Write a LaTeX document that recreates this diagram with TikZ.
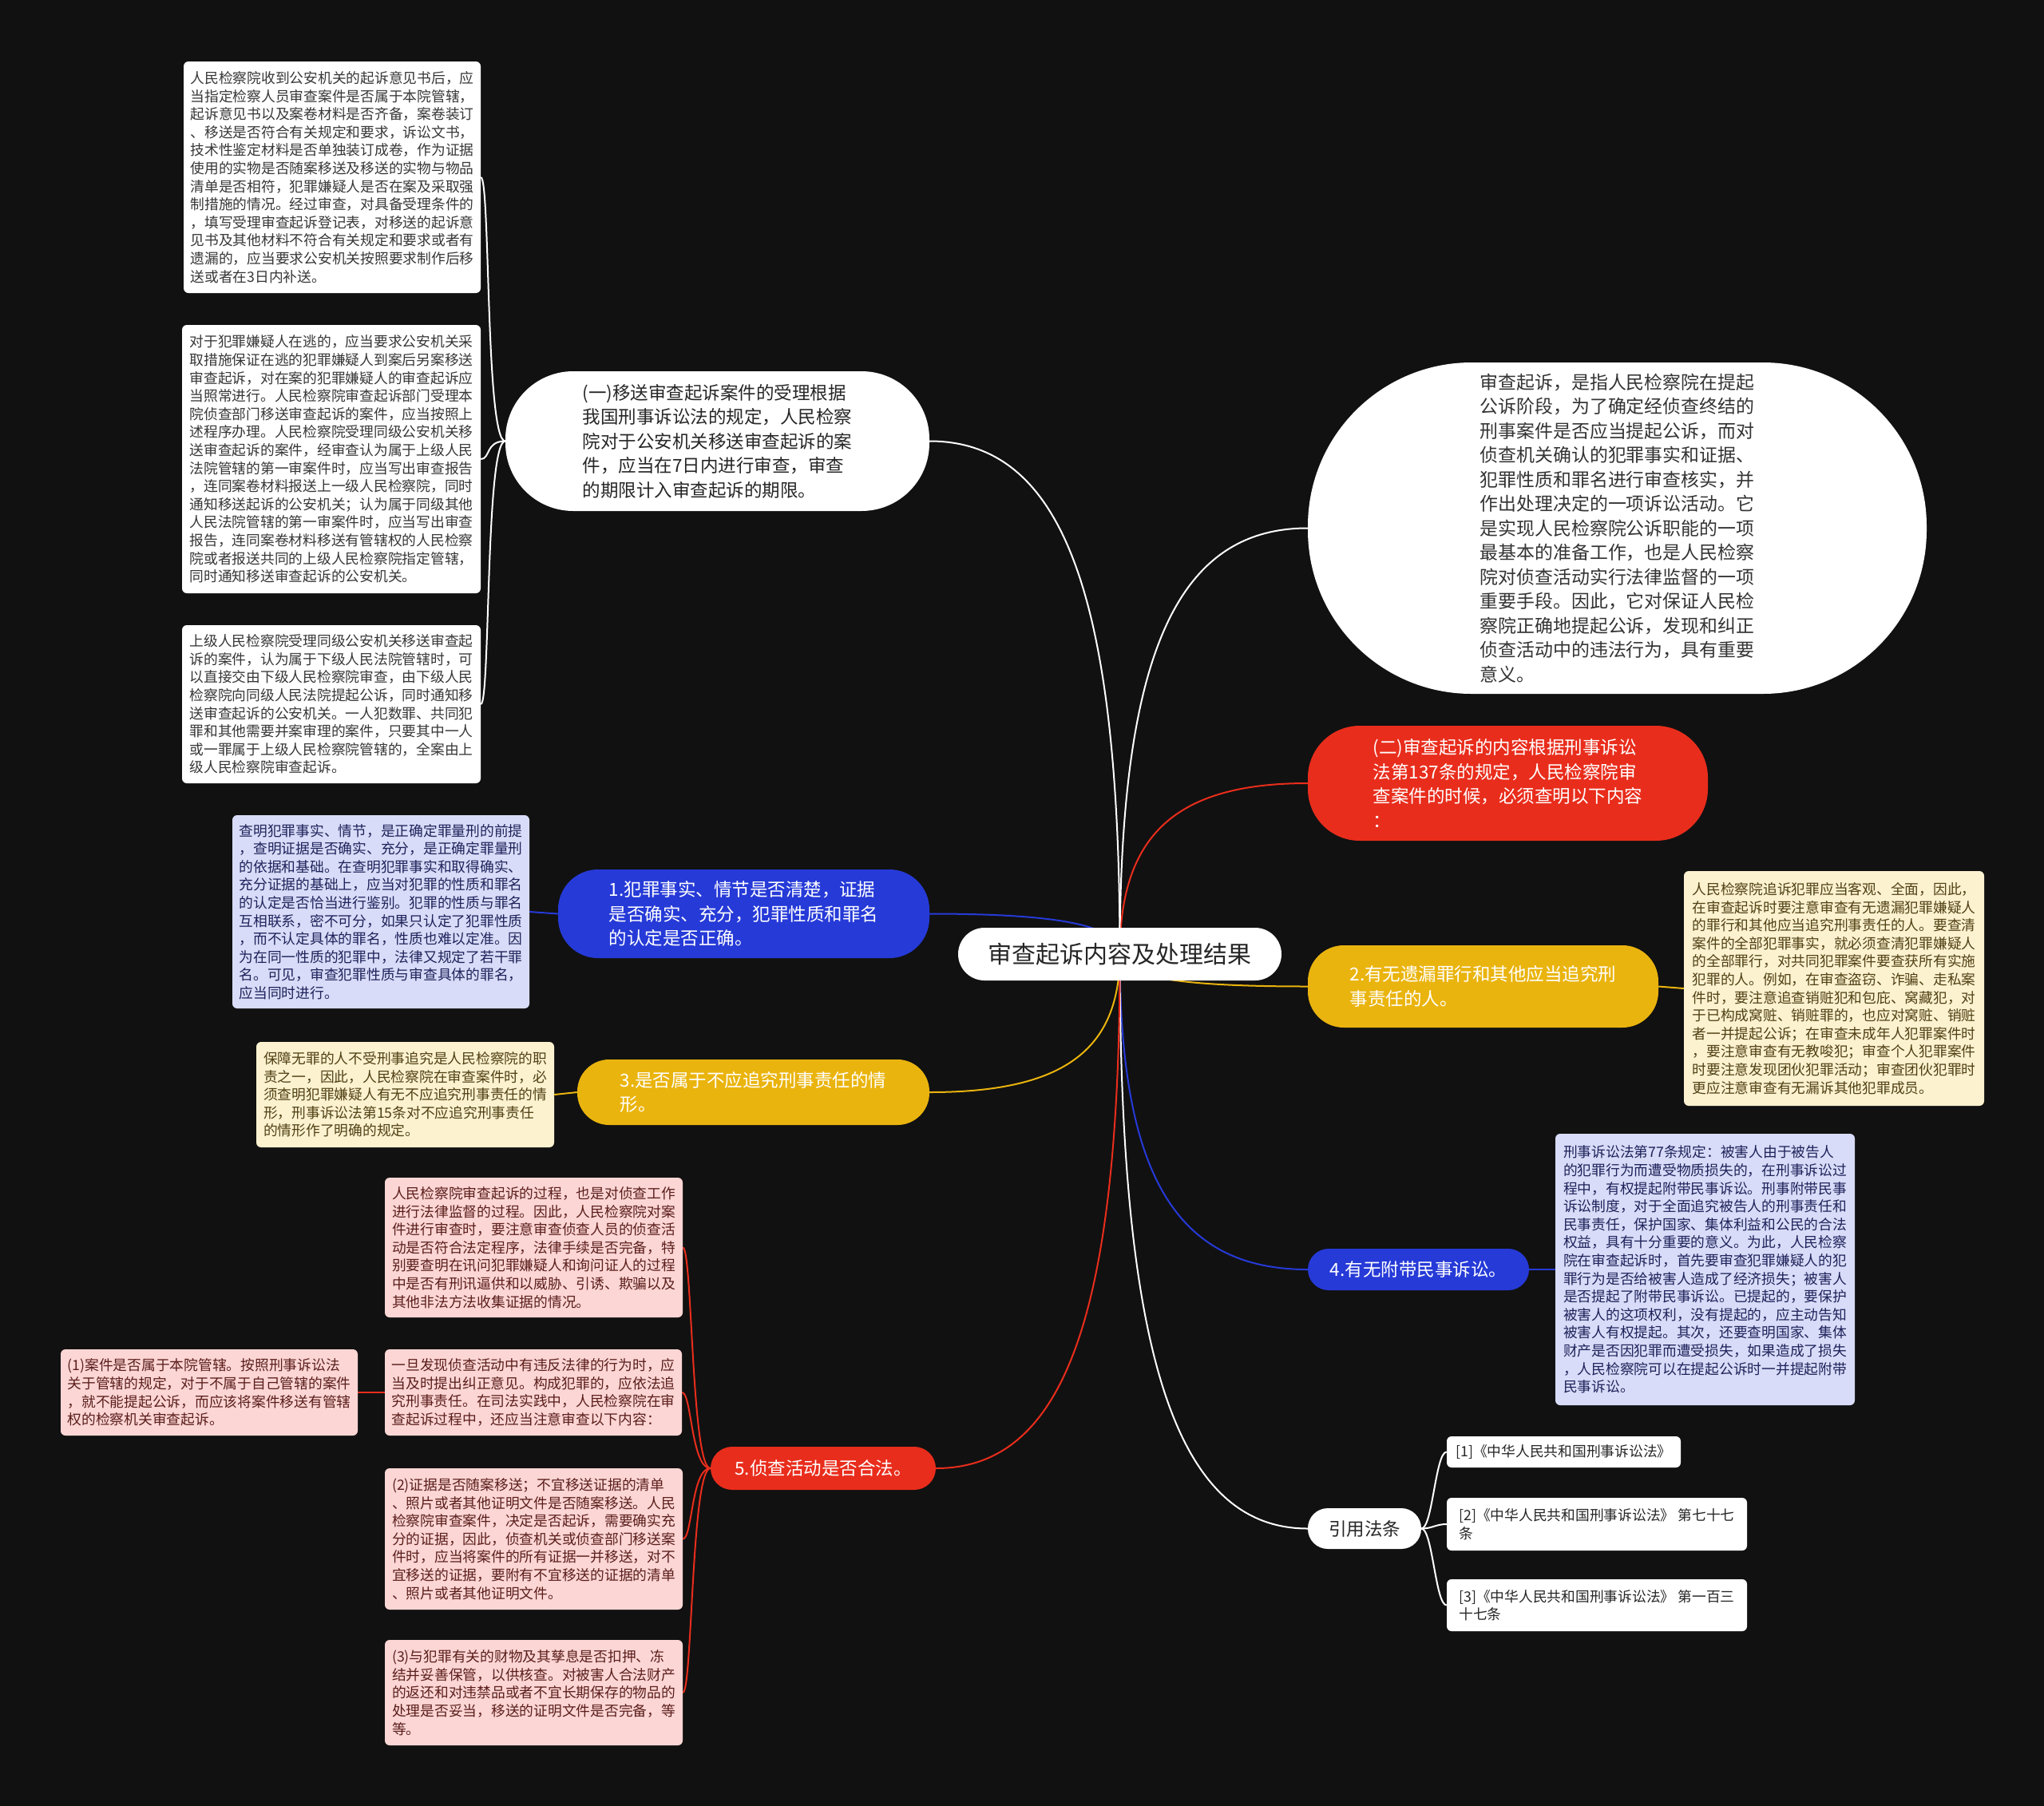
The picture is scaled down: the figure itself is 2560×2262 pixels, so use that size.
\documentclass[tikz,border=0pt]{standalone}
\usepackage{fontspec}
\setmainfont{Noto Sans CJK SC}
\usetikzlibrary{calc}
\definecolor{bgc}{RGB}{17,17,17}
\definecolor{mred}{RGB}{233,45,28}
\definecolor{mblue}{RGB}{38,58,216}
\definecolor{myel}{RGB}{234,180,14}
\definecolor{cream}{RGB}{252,242,208}
\definecolor{lav}{RGB}{216,220,248}
\definecolor{pink}{RGB}{252,214,212}
\definecolor{creamtxt}{RGB}{80,64,20}
\definecolor{lavtxt}{RGB}{30,34,90}
\definecolor{pinktxt}{RGB}{90,30,28}
\definecolor{graytxt}{RGB}{55,55,55}
\pgfdeclarelayer{back}
\pgfdeclarelayer{edges}
\pgfsetlayers{back,edges,main}
\newcommand\hubedge[2]{\draw[conn,#1] (c.center) .. controls ($(c.center)!0.7!(c.center|-#2)$) and ($(#2)!0.7!(c.center|-#2)$) .. (#2);}
\begin{document}
\begin{tikzpicture}[x=1pt,y=1pt,
  conn/.style={line width=2pt},
  base/.style={inner sep=0pt, align=left},
  mnode/.style={base, font=\fontsize{22.5}{30.5}\selectfont},
  sbox/.style={base, rounded corners=6pt, font=\fontsize{17.75}{22.6}\selectfont},
  wbox/.style={sbox, fill=white, text=graytxt},
  cbox/.style={sbox, fill=cream, text=creamtxt},
  lbox/.style={sbox, fill=lav, text=lavtxt},
  pbox/.style={sbox, fill=pink, text=pinktxt},
  lawbox/.style={sbox, fill=white, text={black!85}}
]
\begin{pgfonlayer}{back}
\fill[bgc] (0,0) rectangle (2560,-2262);
\end{pgfonlayer}
\useasboundingbox (0,0) rectangle (2560,-2262);

% centre
\node[base, fill=white, rounded corners=33pt, minimum width=405pt, minimum height=66pt, text={black!85}, font=\fontsize{30}{36}\selectfont] (c) at (1402.5,-1195) {审查起诉内容及处理结果};

% right side
\node[mnode, fill=white, rounded corners=205pt, minimum width=775pt, minimum height=415pt, text={black!80}, font=\fontsize{22.9}{30.5}\selectfont] (ell) at (2025.5,-661.5) {审查起诉，是指人民检察院在提起\\公诉阶段，为了确定经侦查终结的\\刑事案件是否应当提起公诉，而对\\侦查机关确认的犯罪事实和证据、\\犯罪性质和罪名进行审查核实，并\\作出处理决定的一项诉讼活动。它\\是实现人民检察院公诉职能的一项\\最基本的准备工作，也是人民检察\\院对侦查活动实行法律监督的一项\\重要手段。因此，它对保证人民检\\察院正确地提起公诉，发现和纠正\\侦查活动中的违法行为，具有重要\\意义。};

\node[mnode, fill=mred, text=white, rounded corners=65pt, minimum width=501pt, minimum height=144pt] (n2) at (1888.5,-981) {(二)审查起诉的内容根据刑事诉讼\\法第137条的规定，人民检察院审\\查案件的时候，必须查明以下内容\\：};

\node[mnode, fill=myel, text=white, rounded corners=45pt, minimum width=439pt, minimum height=103pt] (y2) at (1857.5,-1235.5) {2.有无遗漏罪行和其他应当追究刑\\事责任的人。};

\node[cbox, minimum width=376pt, minimum height=294pt] (y2c) at (2297,-1238) {人民检察院追诉犯罪应当客观、全面，因此，\\在审查起诉时要注意审查有无遗漏犯罪嫌疑人\\的罪行和其他应当追究刑事责任的人。要查清\\案件的全部犯罪事实，就必须查清犯罪嫌疑人\\的全部罪行，对共同犯罪案件要查获所有实施\\犯罪的人。例如，在审查盗窃、诈骗、走私案\\件时，要注意追查销赃犯和包庇、窝藏犯，对\\于已构成窝赃、销赃罪的，也应对窝赃、销赃\\者一并提起公诉；在审查未成年人犯罪案件时\\，要注意审查有无教唆犯；审查个人犯罪案件\\时要注意发现团伙犯罪活动；审查团伙犯罪时\\更应注意审查有无漏诉其他犯罪成员。};

\node[mnode, fill=mblue, text=white, rounded corners=26pt, minimum width=277pt, minimum height=52pt] (b4) at (1776.5,-1590) {4.有无附带民事诉讼。};

\node[lbox, minimum width=375pt, minimum height=340pt] (b4c) at (2135.5,-1590) {刑事诉讼法第77条规定：被害人由于被告人\\的犯罪行为而遭受物质损失的，在刑事诉讼过\\程中，有权提起附带民事诉讼。刑事附带民事\\诉讼制度，对于全面追究被告人的刑事责任和\\民事责任，保护国家、集体利益和公民的合法\\权益，具有十分重要的意义。为此，人民检察\\院在审查起诉时，首先要审查犯罪嫌疑人的犯\\罪行为是否给被害人造成了经济损失；被害人\\是否提起了附带民事诉讼。已提起的，要保护\\被害人的这项权利，没有提起的，应主动告知\\被害人有权提起。其次，还要查明国家、集体\\财产是否因犯罪而遭受损失，如果造成了损失\\，人民检察院可以在提起公诉时一并提起附带\\民事诉讼。};

\node[mnode, fill=white, text={black!85}, rounded corners=25pt, minimum width=142pt, minimum height=51pt] (law) at (1709,-1914.5) {引用法条};
\node[lawbox, minimum width=293pt, minimum height=39pt] (L1) at (1958.5,-1818.5) {[1]《中华人民共和国刑事诉讼法》};
\node[lawbox, minimum width=376pt, minimum height=66pt] (L2) at (2000,-1909) {[2]《中华人民共和国刑事诉讼法》 第七十七\\条};
\node[lawbox, minimum width=376pt, minimum height=65pt] (L3) at (2000,-2010.5) {[3]《中华人民共和国刑事诉讼法》 第一百三\\十七条};

% left side
\node[mnode, fill=white, text={black!85}, rounded corners=85pt, minimum width=531pt, minimum height=175pt] (n1) at (898.5,-552.5) {(一)移送审查起诉案件的受理根据\\我国刑事诉讼法的规定，人民检察\\院对于公安机关移送审查起诉的案\\件，应当在7日内进行审查，审查\\的期限计入审查起诉的期限。};

\node[wbox, minimum width=372pt, minimum height=290pt] (bA) at (416,-222) {人民检察院收到公安机关的起诉意见书后，应\\当指定检察人员审查案件是否属于本院管辖，\\起诉意见书以及案卷材料是否齐备，案卷装订\\、移送是否符合有关规定和要求，诉讼文书，\\技术性鉴定材料是否单独装订成卷，作为证据\\使用的实物是否随案移送及移送的实物与物品\\清单是否相符，犯罪嫌疑人是否在案及采取强\\制措施的情况。经过审查，对具备受理条件的\\，填写受理审查起诉登记表，对移送的起诉意\\见书及其他材料不符合有关规定和要求或者有\\遗漏的，应当要求公安机关按照要求制作后移\\送或者在3日内补送。};

\node[wbox, minimum width=374pt, minimum height=336pt] (bB) at (415,-575) {对于犯罪嫌疑人在逃的，应当要求公安机关采\\取措施保证在逃的犯罪嫌疑人到案后另案移送\\审查起诉，对在案的犯罪嫌疑人的审查起诉应\\当照常进行。人民检察院审查起诉部门受理本\\院侦查部门移送审查起诉的案件，应当按照上\\述程序办理。人民检察院受理同级公安机关移\\送审查起诉的案件，经审查认为属于上级人民\\法院管辖的第一审案件时，应当写出审查报告\\，连同案卷材料报送上一级人民检察院，同时\\通知移送起诉的公安机关；认为属于同级其他\\人民法院管辖的第一审案件时，应当写出审查\\报告，连同案卷材料移送有管辖权的人民检察\\院或者报送共同的上级人民检察院指定管辖，\\同时通知移送审查起诉的公安机关。};

\node[wbox, minimum width=374pt, minimum height=198pt] (bC) at (415,-882) {上级人民检察院受理同级公安机关移送审查起\\诉的案件，认为属于下级人民法院管辖时，可\\以直接交由下级人民检察院审查，由下级人民\\检察院向同级人民法院提起公诉，同时通知移\\送审查起诉的公安机关。一人犯数罪、共同犯\\罪和其他需要并案审理的案件，只要其中一人\\或一罪属于上级人民检察院管辖的，全案由上\\级人民检察院审查起诉。};

\node[mnode, fill=mblue, text=white, rounded corners=50pt, minimum width=465pt, minimum height=111pt] (b1) at (931.5,-1144.5) {1.犯罪事实、情节是否清楚，证据\\是否确实、充分，犯罪性质和罪名\\的认定是否正确。};

\node[lbox, minimum width=372pt, minimum height=242pt] (b1c) at (477,-1142) {查明犯罪事实、情节，是正确定罪量刑的前提\\，查明证据是否确实、充分，是正确定罪量刑\\的依据和基础。在查明犯罪事实和取得确实、\\充分证据的基础上，应当对犯罪的性质和罪名\\的认定是否恰当进行鉴别。犯罪的性质与罪名\\互相联系，密不可分，如果只认定了犯罪性质\\，而不认定具体的罪名，性质也难以定准。因\\为在同一性质的犯罪中，法律又规定了若干罪\\名。可见，审查犯罪性质与审查具体的罪名，\\应当同时进行。};

\node[mnode, fill=myel, text=white, rounded corners=40pt, minimum width=441pt, minimum height=82pt] (y3) at (943.5,-1368) {3.是否属于不应追究刑事责任的情\\形。};

\node[cbox, minimum width=373pt, minimum height=132pt] (y3c) at (507.5,-1371) {保障无罪的人不受刑事追究是人民检察院的职\\责之一，因此，人民检察院在审查案件时，必\\须查明犯罪嫌疑人有无不应追究刑事责任的情\\形，刑事诉讼法第15条对不应追究刑事责任\\的情形作了明确的规定。};

\node[mnode, fill=mred, text=white, rounded corners=27pt, minimum width=282pt, minimum height=54pt] (r5) at (1031,-1839) {5.侦查活动是否合法。};

\node[pbox, minimum width=373pt, minimum height=175pt] (P1) at (668.5,-1562.5) {人民检察院审查起诉的过程，也是对侦查工作\\进行法律监督的过程。因此，人民检察院对案\\件进行审查时，要注意审查侦查人员的侦查活\\动是否符合法定程序，法律手续是否完备，特\\别要查明在讯问犯罪嫌疑人和询问证人的过程\\中是否有刑讯逼供和以威胁、引诱、欺骗以及\\其他非法方法收集证据的情况。};

\node[pbox, minimum width=372pt, minimum height=108pt] (P2) at (668,-1744) {一旦发现侦查活动中有违反法律的行为时，应\\当及时提出纠正意见。构成犯罪的，应依法追\\究刑事责任。在司法实践中，人民检察院在审\\查起诉过程中，还应当注意审查以下内容：};

\node[pbox, minimum width=372pt, minimum height=108pt] (P0) at (262,-1744) {(1)案件是否属于本院管辖。按照刑事诉讼法\\关于管辖的规定，对于不属于自己管辖的案件\\，就不能提起公诉，而应该将案件移送有管辖\\权的检察机关审查起诉。};

\node[pbox, minimum width=373pt, minimum height=177pt] (P3) at (668.5,-1927.5) {(2)证据是否随案移送；不宜移送证据的清单\\、照片或者其他证明文件是否随案移送。人民\\检察院审查案件，决定是否起诉，需要确实充\\分的证据，因此，侦查机关或侦查部门移送案\\件时，应当将案件的所有证据一并移送，对不\\宜移送的证据，要附有不宜移送的证据的清单\\、照片或者其他证明文件。};

\node[pbox, minimum width=373pt, minimum height=132pt] (P4) at (668.5,-2120) {(3)与犯罪有关的财物及其孳息是否扣押、冻\\结并妥善保管，以供核查。对被害人合法财产\\的返还和对违禁品或者不宜长期保存的物品的\\处理是否妥当，移送的证明文件是否完备，等\\等。};

% connectors
\begin{pgfonlayer}{edges}
\hubedge{white}{ell.west}
\hubedge{mred}{n2.west}
\hubedge{myel}{y2.west}
\hubedge{mblue}{b4.west}
\hubedge{white}{law.west}
\hubedge{white}{n1.east}
\hubedge{mblue}{b1.east}
\hubedge{myel}{y3.east}
\hubedge{mred}{r5.east}

\draw[conn,myel] (y2.east) -- (y2c.west);
\draw[conn,mblue] (b4.east) -- (b4c.west);
\draw[conn,mblue] (b1.west) -- (b1c.east);
\draw[conn,myel] (y3.west) -- (y3c.east);
\draw[conn,mred] (P2.west) -- (P0.east);

\foreach \k in {bA,bB,bC}
  \draw[conn,white] (n1.west) .. controls +(-25,0) and +(12,0) .. (\k.east);
\foreach \k in {P1,P2,P3,P4}
  \draw[conn,mred] (r5.west) .. controls +(-24,0) and +(12,0) .. (\k.east);
\foreach \k in {L1,L2,L3}
  \draw[conn,white] (law.east) .. controls +(14,0) and +(-14,0) .. (\k.west);
\end{pgfonlayer}
\end{tikzpicture}
\end{document}
